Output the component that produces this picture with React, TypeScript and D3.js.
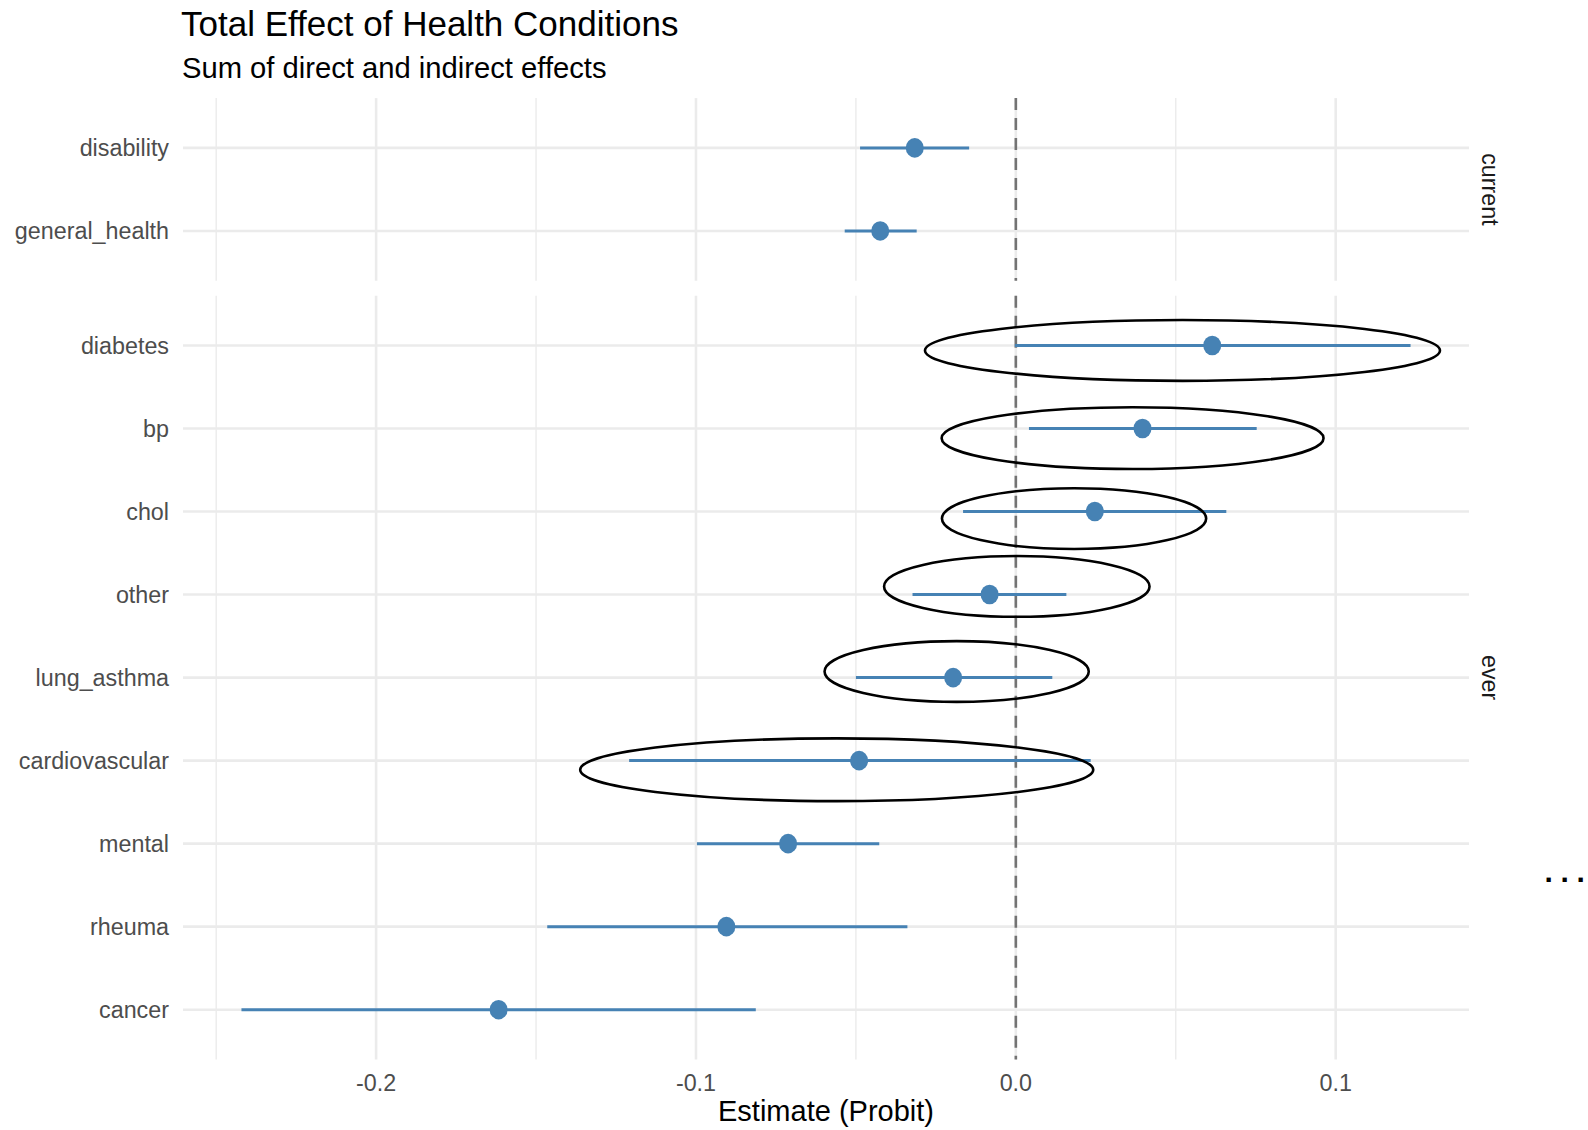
import React from "react";
import * as d3 from "d3";

const facets = ["current", "ever"];
const currentTerms = ["disability", "general_health"];
const everTerms = ["diabetes", "bp", "chol", "other", "lung_asthma", "cardiovascular", "mental", "rheuma", "cancer"];
const termFacet = [
  "current", "current",
  "ever", "ever", "ever", "ever", "ever", "ever", "ever", "ever", "ever",
];
const terms = [...currentTerms, ...everTerms];
const estimates = [-0.0316, -0.0424, 0.0614, 0.0396, 0.0247, -0.0082, -0.0196, -0.049, -0.0712, -0.0905, -0.1617];
const lowers = [-0.0487, -0.0535, -0.0003, 0.0041, -0.0165, -0.0323, -0.05, -0.1209, -0.0997, -0.1465, -0.2421];
const uppers = [-0.0146, -0.031, 0.1234, 0.0753, 0.0658, 0.0158, 0.0114, 0.0234, -0.0427, -0.0339, -0.0813];
const xTicks = [-0.2, -0.1, 0.0, 0.1];
const xMinorTicks = [-0.25, -0.15, -0.05, 0.05];

// hand-drawn annotation ellipses (in data units)
const ringTerms = ["diabetes", "bp", "chol", "other", "lung_asthma", "cardiovascular"];
const ringCenters = [0.0521, 0.0365, 0.0182, 0.0003, -0.0185, -0.056];
const ringHalfWidths = [0.0805, 0.0597, 0.0413, 0.0415, 0.0413, 0.0802];
const ringRowOffsets = [0.06, 0.116, 0.085, -0.098, -0.073, 0.11];
const ringRowHalfHeights = [0.366, 0.372, 0.366, 0.366, 0.366, 0.378];

const W = 1588;
const H = 1130;
const FONT = "'Liberation Sans', Arial, Helvetica, sans-serif";
const BLUE = "#4682B4";

export default function App() {
  const left = 183;
  const right = 1469;
  const top = 98.1;
  const bottom = 1059.5;
  const gap = 14.9;

  const lo = d3.min(lowers) as number;
  const hi = d3.max(uppers) as number;
  const span = hi - lo;
  const x = d3.scaleLinear().domain([lo - 0.05 * span, hi + 0.05 * span]).range([left, right]);

  const units = (currentTerms.length - 1 + 1.2) + (everTerms.length - 1 + 1.2);
  const unit = (bottom - top - gap) / units;
  const topH = (currentTerms.length - 1 + 1.2) * unit;
  const panels = [
    { name: facets[0], terms: currentTerms, y0: top, y1: top + topH },
    { name: facets[1], terms: everTerms, y0: top + topH + gap, y1: bottom },
  ];
  const yScales: Record<string, d3.ScalePoint<string>> = {};
  panels.forEach((p) => {
    yScales[p.name] = d3.scalePoint<string>().domain(p.terms).range([p.y0, p.y1]).padding(0.6);
  });
  const yOf = (i: number) => yScales[termFacet[i]](terms[i]) as number;
  const step = yScales["ever"].step();

  return (
    <svg width={W} height={H} style={{ display: "block", position: "absolute", left: 0, top: 0 }} fontFamily={FONT}>
      <rect x={0} y={0} width={W} height={H} fill="#fff" />
      <text x={181} y={36} fontSize={35} fill="#000">Total Effect of Health Conditions</text>
      <text x={182} y={77.5} fontSize={29.2} fill="#000">Sum of direct and indirect effects</text>

      {panels.map((p) => (
        <g key={p.name}>
          {xMinorTicks.map((t) => (
            <line key={"m" + t} x1={x(t)} x2={x(t)} y1={p.y0} y2={p.y1} stroke="#EBEBEB" strokeWidth={1.4} />
          ))}
          {xTicks.map((t) => (
            <line key={"M" + t} x1={x(t)} x2={x(t)} y1={p.y0} y2={p.y1} stroke="#EBEBEB" strokeWidth={2.6} />
          ))}
          {p.terms.map((t) => (
            <line key={t} x1={left} x2={right} y1={yScales[p.name](t)} y2={yScales[p.name](t)} stroke="#EBEBEB" strokeWidth={2.6} />
          ))}
          <line x1={x(0)} x2={x(0)} y1={p.y0} y2={p.y1} stroke="#737373" strokeWidth={2.6} strokeDasharray="12 8" />
          {p.terms.map((t) => (
            <text key={"l" + t} x={169} y={(yScales[p.name](t) as number) + 8.2} textAnchor="end" fontSize={23.3} fill="#4D4D4D">{t}</text>
          ))}
          <text
            transform={`translate(1482,${(p.y0 + p.y1) / 2}) rotate(90)`}
            textAnchor="middle"
            fontSize={23.3}
            fill="#1A1A1A"
          >{p.name}</text>
        </g>
      ))}

      {terms.map((t, i) => (
        <g key={"d" + t}>
          <line x1={x(lowers[i])} x2={x(uppers[i])} y1={yOf(i)} y2={yOf(i)} stroke={BLUE} strokeWidth={3} />
          <ellipse cx={x(estimates[i])} cy={yOf(i)} rx={9} ry={9.8} fill={BLUE} />
        </g>
      ))}

      {ringTerms.map((t, i) => {
        const cy = (yScales["ever"](t) as number) + ringRowOffsets[i] * step;
        const cx = x(ringCenters[i]);
        const rx = x(ringCenters[i] + ringHalfWidths[i]) - cx;
        return (
          <ellipse key={"r" + t} cx={cx} cy={cy} rx={rx} ry={ringRowHalfHeights[i] * step} fill="none" stroke="#000" strokeWidth={2.6} />
        );
      })}

      {xTicks.map((t) => (
        <text key={"t" + t} x={x(t)} y={1091} textAnchor="middle" fontSize={23.3} fill="#4D4D4D">{d3.format(".1f")(t).replace("−", "-")}</text>
      ))}
      <text x={(left + right) / 2} y={1121} textAnchor="middle" fontSize={29} fill="#000">Estimate (Probit)</text>

      <text y={882} fontSize={30} fontWeight="bold" fill="#000">
        <tspan x={1544.5}>.</tspan>
        <tspan x={1560.5}>.</tspan>
        <tspan x={1576.5}>.</tspan>
      </text>
    </svg>
  );
}
